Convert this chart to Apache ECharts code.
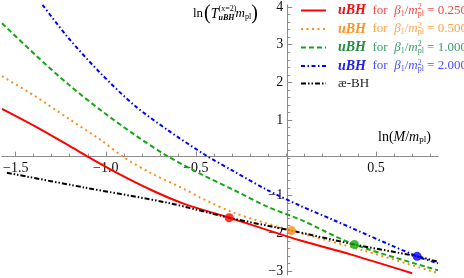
<!DOCTYPE html>
<html><head><meta charset="utf-8">
<script src="https://cdn.jsdelivr.net/npm/echarts@6/dist/echarts.min.js"></script>
<style>html,body{margin:0;padding:0;background:#fff}#c{width:464px;height:278px}</style>
</head><body><div id="c"></div>
<script>
// ---- data ----
const xRed    = [-1.576, -1.394, -1.206, -1.090, -0.930, -0.748, -0.565, -0.315, -0.101, 0.081, 0.357, 0.700];
const yRed    = [ 1.299,  0.840,  0.328,  0.005, -0.420, -0.853, -1.220, -1.588, -1.916, -2.192, -2.559, -3.058];
const xOrange = [-1.576, -1.394, -1.206, -1.024, -0.897, -0.748, -0.565, -0.471, -0.289, -0.046, 0.031, 0.429, 0.844];
const yOrange = [ 2.165,  1.640,  1.037,  0.459,  0.005, -0.407, -0.827, -1.063, -1.457, -1.824, -1.929, -2.454, -3.058];
const xGreen  = [-1.576, -1.394, -1.206, -1.024, -0.841, -0.665, -0.471, -0.289, -0.101, 0.081, 0.380, 0.844];
const yGreen  = [ 3.570,  2.743,  1.942,  1.247,  0.617,  0.066, -0.433, -0.853, -1.299, -1.640, -2.297, -2.979];
const xBlue   = [-1.351, -1.208, -1.024, -0.840, -0.655, -0.444, -0.287, -0.103, 0.081, 0.247, 0.728, 0.844];
const yBlue   = [ 4.055,  3.181,  2.218,  1.388,  0.732,  0.066, -0.363, -0.853, -1.273, -1.614, -2.612, -2.795];
const xBlack  = [-1.549, -1.118, -0.654, -0.315, 0.031, 0.380, 0.728, 0.844];
const yBlack  = [-0.394, -0.787, -1.194, -1.588, -1.929, -2.297, -2.612, -2.756];
const dotX = [-0.315, 0.031, 0.380, 0.728];
const dotY = [-1.588, -1.929, -2.297, -2.612];
const betaLabels = ['0.250', '0.500', '1.000', '2.000'];
const xMajorTicks = [-1.5, -1.0, -0.5, 0.5];
const yMajorTicks = [4, 3, 2, 1, -1, -2, -3];

// ---- styling ----
const SERIF = 'Liberation Serif';
const lineColors = ['#ff0000', '#ff8c1a', '#12a812', '#0000ff', '#000000'];
const strongText = ['#ee1111', '#ff9422', '#238c44', '#2020e0'];
const lightText  = ['#ee4a4a', '#ffa347', '#3c9d6c', '#4d4dff'];
const dashTypes = ['solid', [2, 3.5], [5, 3], [4, 2.5, 1.5, 2.5], [5, 2, 1.5, 2, 1.5, 2]];
const names = ['r', 'o', 'g', 'b', 'k'];

const X_MIN = -1.576, X_MAX = 0.844, Y_MIN = -3.1, Y_MAX = 4.05;
const GRID = {left: 0, top: 5, width: 438, height: 272.4};

const pairs = (xs, ys) => xs.map((x, i) => [x, ys[i]]);
const curves = [pairs(xRed, yRed), pairs(xOrange, yOrange), pairs(xGreen, yGreen), pairs(xBlue, yBlue), pairs(xBlack, yBlack)];

const minorX = []; for (let k = -15; k <= 8; k++) minorX.push(+(k / 10).toFixed(1));
const minorY = []; for (let k = -15; k <= 20; k++) minorY.push(+(k / 5).toFixed(1));

const rich = {};
for (let i = 0; i < 4; i++) {
  rich['u' + i] = {fontFamily: SERIF, fontStyle: 'italic', fontWeight: 'bold', fontSize: 14, color: strongText[i], padding: [0, 0, 0, 7]};
  rich['f' + i] = {fontFamily: SERIF, fontSize: 13, color: lightText[i]};
  rich['i' + i] = {fontFamily: SERIF, fontStyle: 'italic', fontSize: 13, color: lightText[i]};
  rich['s' + i] = {fontFamily: SERIF, fontSize: 8, color: lightText[i], padding: [6, 0, 0, 0]};
  rich['p' + i] = {fontFamily: SERIF, fontSize: 8, color: lightText[i], padding: [0, 0, 7, 0], width: 0};
}
rich.k = {fontFamily: SERIF, fontSize: 13, color: '#222', padding: [0, 0, 0, 7]};

function legendFmt(name) {
  const i = names.indexOf(name);
  if (i === 4) return '{k|æ-BH}';
  return `{u${i}|uBH}{f${i}|  for  }{i${i}|β}{s${i}|1}{f${i}|/}{i${i}|m}{p${i}|2}{s${i}|pl}{f${i}| = ${betaLabels[i]}}`;
}

const series = curves.map((d, i) => ({
  name: names[i], type: 'line', data: d, smooth: 0.3, symbol: 'none',
  xAxisIndex: 0, yAxisIndex: 0,
  lineStyle: {color: lineColors[i], width: 2, type: dashTypes[i]},
  itemStyle: {color: lineColors[i]}, z: 3
}));
series.push({
  type: 'scatter', data: pairs(dotX, dotY), symbolSize: 9, z: 5,
  itemStyle: {color: p => lineColors[p.dataIndex]}
});

// place axes at the origin (x=0 / y=0) via offsets computed from the scales
const xZeroPx = GRID.left + (0 - X_MIN) / (X_MAX - X_MIN) * GRID.width;
const yZeroFromBottom = (0 - Y_MIN) / (Y_MAX - Y_MIN) * GRID.height;

const axisLineStyle = {show: true, onZero: false, lineStyle: {color: '#8c8c8c', width: 1}};
const lblStyle = {color: '#111', fontFamily: SERIF, fontSize: 14};
const fmtNum = (v, d) => (v < 0 ? '\u2212' : '') + Math.abs(v).toFixed(d);

function xAx(ticks, len, labels) {
  return {type: 'value', min: X_MIN, max: X_MAX, position: 'bottom', offset: -yZeroFromBottom,
    axisLine: axisLineStyle, splitLine: {show: false},
    axisTick: {show: true, inside: true, length: len, customValues: ticks, lineStyle: {color: '#8c8c8c'}},
    axisLabel: labels ? Object.assign({show: true, customValues: ticks, margin: 5, formatter: v => fmtNum(v, 1)}, lblStyle) : {show: false}};
}
function yAx(ticks, len, labels) {
  return {type: 'value', min: Y_MIN, max: Y_MAX, position: 'left', offset: -xZeroPx,
    axisLine: axisLineStyle, splitLine: {show: false},
    axisTick: {show: true, inside: true, length: len, customValues: ticks, lineStyle: {color: '#8c8c8c'}},
    axisLabel: labels ? Object.assign({show: true, customValues: ticks, margin: 4, formatter: v => fmtNum(v, 0)}, lblStyle) : {show: false}};
}

const chart = echarts.init(document.getElementById('c'), null, {renderer: 'canvas'});
chart.setOption({
  animation: false,
  backgroundColor: '#fff',
  grid: Object.assign({containLabel: false}, GRID),
  xAxis: [xAx(minorX, 3, false), xAx(xMajorTicks, 5, true)],
  yAxis: [yAx(minorY, 3, false), yAx(yMajorTicks, 5, true)],
  legend: {
    data: names, orient: 'vertical', left: 300, top: 3, padding: 0,
    itemWidth: 25, itemHeight: 14, itemGap: 4, align: 'left',
    itemStyle: {opacity: 0},
    formatter: legendFmt, textStyle: {rich: rich}
  },
  graphic: [
    {type: 'text', left: 378, top: 130, z: 10, style: {
      text: '{n|ln(}{i|M}{n|/}{i|m}{s|pl}{n|)}',
      rich: {n: {fontFamily: SERIF, fontSize: 14, color: '#222'}, i: {fontFamily: SERIF, fontStyle: 'italic', fontSize: 14, color: '#222'},
             s: {fontFamily: SERIF, fontSize: 9, color: '#222', padding: [6, 0, 0, 0]}}}},
    {type: 'text', left: 193, top: 4, z: 10, style: {
      text: '{n|ln}{b|(}{t|T}{p|(x=2)}{u|uBH}{i|m}{s|pl}{b|)}',
      rich: {n: {fontFamily: SERIF, fontSize: 13, color: '#222', padding: [0, 1, 0, 0]},
             b: {fontFamily: SERIF, fontSize: 20, color: '#222'},
             t: {fontFamily: SERIF, fontStyle: 'italic', fontSize: 14, color: '#222'},
             p: {fontFamily: SERIF, fontSize: 8, color: '#222', padding: [0, 0, 10, 0], width: 0},
             u: {fontFamily: SERIF, fontStyle: 'italic', fontWeight: 'bold', fontSize: 8, color: '#222', padding: [8, 1, 0, 0]},
             i: {fontFamily: SERIF, fontStyle: 'italic', fontSize: 13, color: '#222'},
             s: {fontFamily: SERIF, fontSize: 8, color: '#222', padding: [6, 0, 0, 0]}}}}
  ],
  series: series
});
</script></body></html>
